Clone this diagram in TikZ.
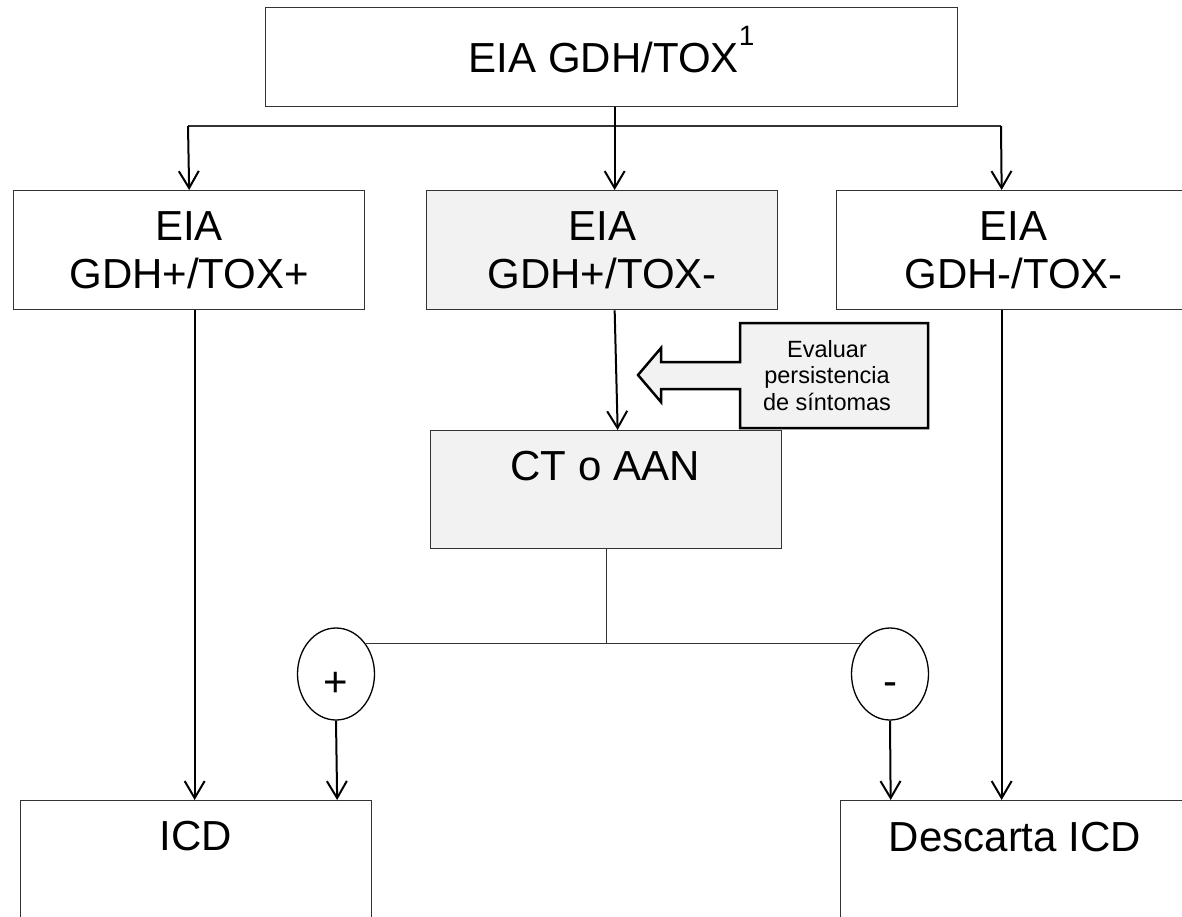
\documentclass[tikz,border=0pt]{standalone}
\usepackage{fontspec}
\setmainfont{Liberation Sans}
\usetikzlibrary{arrows.meta,shapes.geometric}
\definecolor{boxgray}{HTML}{F2F2F2}
\definecolor{edge}{HTML}{333333}
\begin{document}
\begin{tikzpicture}[x=1pt,y=-1pt,
  box/.style={draw=edge,line width=1.3pt,rectangle,inner sep=0pt,anchor=north west,
    font=\fontsize{42}{48}\selectfont,align=center},
  shaded/.style={fill=boxgray},
  oval/.style={draw=black,line width=1.3pt,ellipse,inner sep=0pt,minimum width=77pt,minimum height=92pt},
  txt/.style={font=\fontsize{42}{48}\selectfont,inner sep=0pt,anchor=base},
  smalltxt/.style={font=\fontsize{23.5}{26}\selectfont,inner sep=0pt,anchor=base},
  arr/.style={draw=black,line width=2pt,-{Straight Barb[length=17pt,width=20pt]}},
  conn/.style={draw=edge,line width=1.3pt},
  callout/.style={draw=black,fill=boxgray,line width=2.5pt,line join=miter}]
\clip (0,0) rectangle (1182,916);
% boxes
\node[box,minimum width=692pt,minimum height=99pt] (top) at (265,7)
  {EIA GDH/TOX\smash{\raisebox{27pt}{\fontsize{28}{28}\selectfont 1}}};
\node[box,minimum width=351pt,minimum height=119pt] (left) at (13,190) {EIA\\GDH+/TOX+};
\node[box,shaded,minimum width=351pt,minimum height=119pt] (mid) at (426,190) {EIA\\GDH+/TOX-};
\node[box,minimum width=354pt,minimum height=119pt] (right) at (836,190) {EIA\\GDH-/TOX-};
\node[box,shaded,minimum width=351pt,minimum height=118pt] (ct) at (430,430) {};
\node[txt] (cttext) at (605,480) {CT o AAN};
\node[box,minimum width=351pt,minimum height=140pt] (icd) at (20,800) {};
\node[txt] (icdtext) at (195.5,850) {ICD};
\node[box,minimum width=350pt,minimum height=140pt] (desc) at (840,800) {};
\node[txt] (desctext) at (1015,851) {Descarta ICD};
% result ovals
\node[oval] (plus) at (336,674) {};
\node[txt] (plustext) at (336,696) {+};
\node[oval] (minus) at (890,674) {};
\node[txt] (minustext) at (890,695) {-};
% top distribution
\coordinate (hl) at (188,126);
\coordinate (hr) at (1001,126);
\draw[conn] (hl) -- (hr);
\draw[arr] ([xshift=3pt]top.south) -- ([xshift=12.5pt]mid.north);
\draw[arr] (hl) -- (left.north);
\draw[arr] (hr) -- ([xshift=-12pt]right.north);
% middle path
\draw[arr] ([xshift=12.5pt]mid.south) -- ([xshift=11.5pt]ct.north);
\draw[conn] (ct.south) -- (ct.south |- plus.46);
\draw[conn] (plus.46) -- (minus.134);
% to results
\draw[arr] ([xshift=5.5pt]left.south) -- ([xshift=-1.5pt]icd.north);
\draw[arr] ([xshift=-12pt]right.south) -- ([xshift=-14pt]desc.north);
\draw[arr] (plus.south) -- ([xshift=141pt]icd.north);
\draw[arr] (minus.south) -- ([xshift=-125pt]desc.north);
% callout
\draw[callout] (740,323) -- (928,323) -- (928,428) -- (740,428) -- (740,389)
  -- (661,389) -- (661,402) -- (638,375) -- (661,348) -- (661,362) -- (740,362) -- cycle;
\node[smalltxt] (ev1) at (827,357) {Evaluar};
\node[smalltxt] (ev2) at (827,383) {persistencia};
\node[smalltxt] (ev3) at (827,410) {de síntomas};
\end{tikzpicture}
\end{document}
